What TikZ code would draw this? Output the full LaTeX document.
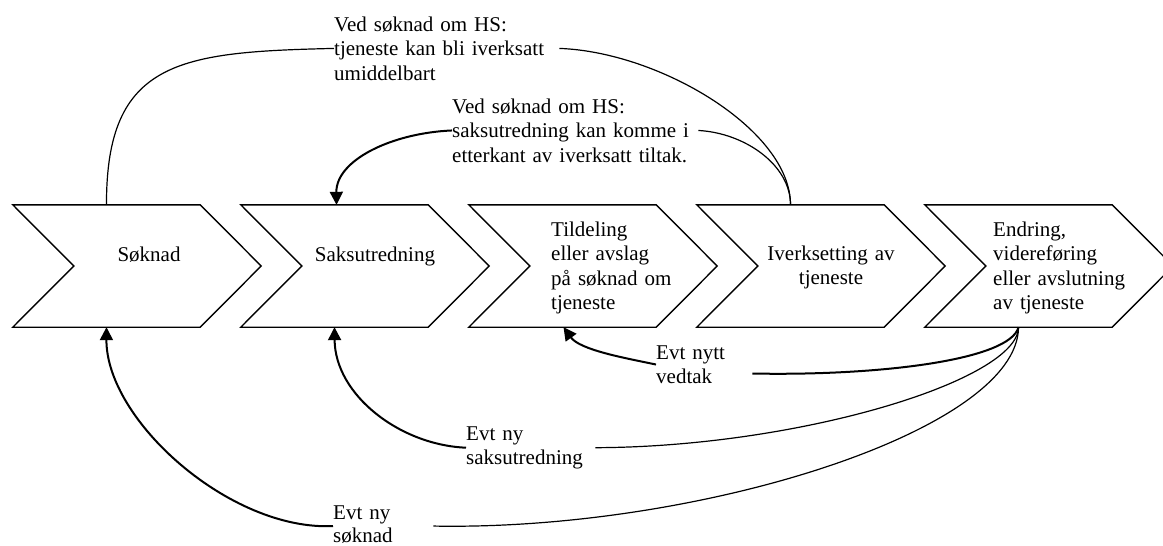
\documentclass[tikz,border=0pt]{standalone}
\usepackage{fontspec}
\setmainfont{Liberation Serif}
\usetikzlibrary{arrows.meta}
\tikzset{
  chev/.style={minimum width=187pt, minimum height=122pt, inner sep=0pt, draw=none},
  chevline/.style={line width=1.4pt, line join=miter},
  txt/.style={inner sep=0pt, font=\fontsize{21}{24.6}\selectfont},
  txtbox/.style={txt, align=left, anchor=base west},
  thin/.style={line width=1.2pt},
  thick/.style={line width=2pt},
  arr/.style={thick, -{Triangle[length=13pt,width=13pt]}}
}
\newcommand{\chevshape}[1]{%
  \draw[chevline] (#1.north west) -- (#1.north east) -- ([xshift=61pt]#1.east) -- (#1.south east) -- (#1.south west) -- ([xshift=61pt]#1.west) -- cycle;}
\begin{document}
\begin{tikzpicture}[x=1pt,y=-1pt]
\useasboundingbox (0,0) rectangle (1163,546);
% chevrons
\node[chev] (c1) at (106.5,266) {};
\node[chev] (c2) at (334.5,266) {};
\node[chev] (c3) at (562.5,266) {};
\node[chev] (c4) at (790.5,266) {};
\node[chev] (c5) at (1018.5,266) {};
\chevshape{c1}\chevshape{c2}\chevshape{c3}\chevshape{c4}\chevshape{c5}
% chevron labels
\node[txt, anchor=base] (l1) at (149,261) {Søknad};
\node[txt, anchor=base] (l2) at (375,261) {Saksutredning};
\node[txtbox, text width=160pt] (l3) at (551,236) {Tildeling\\eller avslag\\på søknad om\\tjeneste};
\node[txt, anchor=base, align=center, text width=150pt] (l4) at (831,260) {Iverksetting av\\tjeneste};
\node[txtbox, text width=175pt] (l5) at (993,236) {Endring,\\videreføring\\eller avslutning\\av\ tjeneste};
% annotation texts
\node[txtbox, text width=225pt] (t1) at (334,31) {Ved søknad om HS:\\tjeneste kan bli iverksatt\\umiddelbart};
\node[txtbox, text width=246pt] (t2) at (452,113) {Ved søknad om HS:\\saksutredning kan komme i\\etterkant av iverksatt tiltak.};
\node[txtbox, text width=96pt] (t3) at (656,359) {Evt nytt\\vedtak};
\node[txtbox, text width=129pt] (t4) at (466,440) {Evt ny\\saksutredning};
\node[txtbox, text width=100pt] (t5) at (333,519) {Evt ny\\[-1.6pt]søknad};
% top connectors
\draw[thin] (c1.north) .. controls (106,60) and (180,52) .. (t1.west);
\draw[thin] (t1.east) .. controls (660,52) and (790.5,130) .. (c4.north);
\draw[thin] (t2.east) .. controls (745,133) and (790.5,165) .. (c4.north);
\draw[arr] (t2.west) .. controls (392,133) and (336,160) .. ([xshift=2pt]c2.north);
% bottom connectors
\draw[thick] ([yshift=-9pt]t3.east) .. controls (880,376) and (1010,360) .. (c5.south);
\draw[arr] (t3.west) .. controls (625,358) and (580,350) .. ([xshift=1pt]c3.south);
\draw[thin] (t4.east) .. controls (800,447) and (1018,380) .. (c5.south);
\draw[arr] (t4.west) .. controls (400,445) and (335,395) .. (c2.south);
\draw[thin] ([yshift=-2pt]t5.east) .. controls (700,531) and (1018,430) .. (c5.south);
\draw[arr] ([yshift=-2pt]t5.west) .. controls (230,531) and (106,420) .. (c1.south);
\end{tikzpicture}
\end{document}
